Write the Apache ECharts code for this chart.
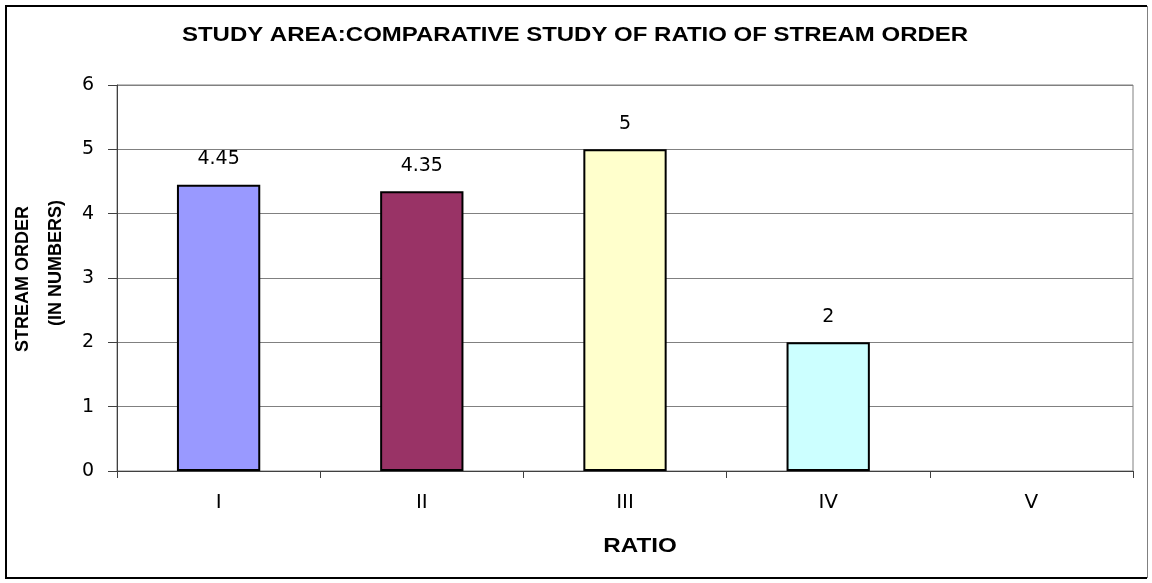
<!DOCTYPE html>
<html>
<head>
<meta charset="utf-8">
<script src="https://cdn.jsdelivr.net/npm/echarts@6/dist/echarts.min.js"></script>
<style>
  html, body { margin: 0; padding: 0; background: #fff; }
  #chart { width: 1152px; height: 583px; }
</style>
</head>
<body>
<div id="chart"></div>
<script>
// Ratio of stream order, by ratio class
const categories = ['I', 'II', 'III', 'IV', 'V'];
const values = [4.45, 4.35, 5, 2, null];
const barColors = ['#9999FF', '#993366', '#FFFFCC', '#CCFFFF', '#FFFFFF'];
const yTicks = [0, 1, 2, 3, 4, 5, 6];

const titleText = 'STUDY AREA:COMPARATIVE STUDY OF RATIO OF STREAM ORDER';
const xAxisTitle = 'RATIO';
const yAxisTitle = ['STREAM ORDER', '(IN NUMBERS)'];

const FONT = '"DejaVu Sans", "Liberation Sans", Arial, sans-serif';
const FONT_NARROW = '"Liberation Sans", Arial, sans-serif';

const chart = echarts.init(document.getElementById('chart'), null, { renderer: 'canvas' });

chart.setOption({
  backgroundColor: '#fff',
  animation: false,
  graphic: [
    // chart frame
    {
      type: 'polyline',
      shape: { points: [[1147, 6], [6, 6], [6, 578], [1147, 578]] },
      style: { fill: 'none', stroke: '#000', lineWidth: 2 },
      z: 0
    },
    {
      type: 'line',
      shape: { x1: 1147.5, y1: 6, x2: 1147.5, y2: 578 },
      style: { stroke: '#808080', lineWidth: 1 },
      z: 0
    },
    // chart title (wide sans, bold)
    {
      type: 'text',
      x: 575, y: 35.5,
      scaleX: 1.23,
      style: {
        text: titleText,
        font: 'bold 19.5px ' + FONT_NARROW,
        fill: '#000',
        align: 'center',
        verticalAlign: 'middle'
      }
    },
    // horizontal axis title
    {
      type: 'text',
      x: 640, y: 546,
      scaleX: 1.15,
      style: {
        text: xAxisTitle,
        font: 'bold 21px ' + FONT_NARROW,
        fill: '#000',
        align: 'center',
        verticalAlign: 'middle'
      }
    },
    // vertical axis title, two lines
    {
      type: 'text',
      x: 23.5, y: 279,
      rotation: Math.PI / 2,
      style: {
        text: yAxisTitle[0],
        font: 'bold 18px ' + FONT_NARROW,
        fill: '#000',
        align: 'center',
        verticalAlign: 'middle'
      }
    },
    {
      type: 'text',
      x: 56.5, y: 263,
      rotation: Math.PI / 2,
      style: {
        text: yAxisTitle[1],
        font: 'bold 18px ' + FONT_NARROW,
        fill: '#000',
        align: 'center',
        verticalAlign: 'middle'
      }
    }
  ],
  grid: {
    left: 117, right: 19, top: 85, bottom: 112,
    show: true,
    borderColor: '#808080',
    borderWidth: 1,
    backgroundColor: '#fff'
  },
  xAxis: {
    type: 'category',
    data: categories,
    axisLine: { lineStyle: { color: '#404040', width: 1 } },
    axisTick: { show: true, alignWithLabel: false, length: 7, lineStyle: { color: '#404040' } },
    axisLabel: { fontFamily: FONT, fontSize: 20, color: '#000', margin: 22 },
    splitLine: { show: false }
  },
  yAxis: {
    type: 'value',
    min: yTicks[0],
    max: yTicks[yTicks.length - 1],
    interval: 1,
    axisLine: { show: true, lineStyle: { color: '#404040', width: 1 } },
    axisTick: { show: true, length: 9, lineStyle: { color: '#404040' } },
    axisLabel: { fontFamily: FONT, fontSize: 19, color: '#000', margin: 23 },
    splitLine: { show: true, lineStyle: { color: '#808080', width: 1 } }
  },
  series: [{
    type: 'bar',
    barWidth: '41%',
    data: values.map((v, i) => ({
      value: v,
      itemStyle: { color: barColors[i], borderColor: '#000', borderWidth: 2 }
    })),
    label: {
      show: true,
      position: 'top',
      distance: 16,
      fontFamily: FONT,
      fontSize: 19,
      color: '#000',
      formatter: p => (p.value == null ? '' : String(p.value))
    }
  }]
});
</script>
</body>
</html>
